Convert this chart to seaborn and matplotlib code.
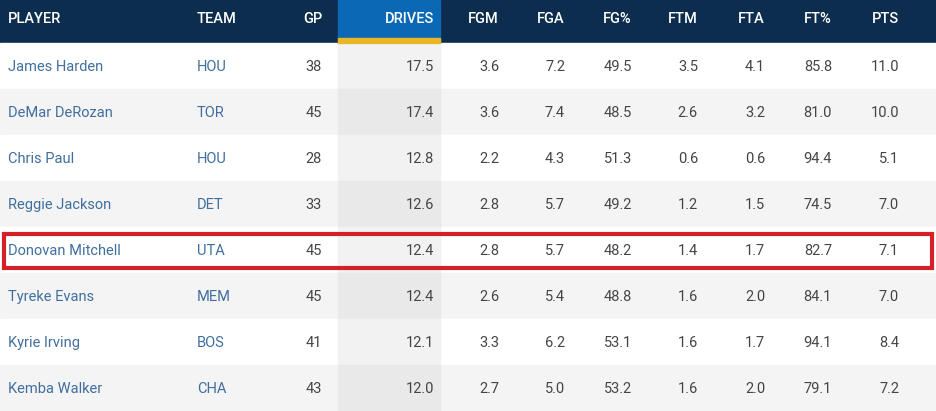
import matplotlib
matplotlib.use("Agg")
import matplotlib.pyplot as plt
import seaborn as sns
from matplotlib.patches import Rectangle

sns.set_theme(style="white")

columns = ["PLAYER", "TEAM", "GP", "DRIVES", "FGM", "FGA", "FG%", "FTM", "FTA", "FT%", "PTS"]
players = ["James Harden", "DeMar DeRozan", "Chris Paul", "Reggie Jackson", "Donovan Mitchell",
           "Tyreke Evans", "Kyrie Irving", "Kemba Walker"]
teams = ["HOU", "TOR", "HOU", "DET", "UTA", "MEM", "BOS", "CHA"]
gp = [38, 45, 28, 33, 45, 45, 41, 43]
drives = [17.5, 17.4, 12.8, 12.6, 12.4, 12.4, 12.1, 12.0]
fgm = [3.6, 3.6, 2.2, 2.8, 2.8, 2.6, 3.3, 2.7]
fga = [7.2, 7.4, 4.3, 5.7, 5.7, 5.4, 6.2, 5.0]
fgp = [49.5, 48.5, 51.3, 49.2, 48.2, 48.8, 53.1, 53.2]
ftm = [3.5, 2.6, 0.6, 1.2, 1.4, 1.6, 1.6, 1.6]
fta = [4.1, 3.2, 0.6, 1.5, 1.7, 2.0, 1.7, 2.0]
ftp = [85.8, 81.0, 94.4, 74.5, 82.7, 84.1, 94.1, 79.1]
pts = [11.0, 10.0, 5.1, 7.0, 7.1, 7.0, 8.4, 7.2]
highlight = "Donovan Mitchell"

W, H = 936, 411
fig = plt.figure(figsize=(W / 100, H / 100), dpi=100)
ax = fig.add_axes([0, 0, 1, 1])
ax.set_xlim(0, W)
ax.set_ylim(H, 0)
ax.axis("off")

hdr_h = 43
row_h = 46
drv_x0, drv_x1 = 338, 440
font = "Roboto"

ax.add_patch(Rectangle((0, 0), W, hdr_h, color="#0c2d4e", zorder=1))
ax.add_patch(Rectangle((drv_x0, 0), drv_x1 - drv_x0, hdr_h, color="#0a68b4", zorder=2))
ax.add_patch(Rectangle((drv_x0, hdr_h - 5), drv_x1 - drv_x0, 5, color="#e8b526", zorder=3))

for i in range(len(players)):
    y0 = hdr_h + i * row_h
    bg = "#ffffff" if i % 2 == 0 else "#f4f4f4"
    dbg = "#f2f2f2" if i % 2 == 0 else "#e9e9e9"
    ax.add_patch(Rectangle((0, y0), W, row_h, color=bg, zorder=1))
    ax.add_patch(Rectangle((drv_x0, y0), drv_x1 - drv_x0, row_h, color=dbg, zorder=2))

# column anchors: (x, ha)
anchors = [(8, "left"), (197, "left"), (322, "right"), (434, "right"), (499, "right"),
           (565, "right"), (632, "right"), (698, "right"), (765, "right"), (832, "right"), (899, "right")]

for (x, ha), c in zip(anchors, columns):
    ax.text(x, 19, c, ha=ha, va="center", color="white", fontsize=10.5,
            fontfamily=font, fontweight="medium", zorder=4)

link = "#3f6e9e"
num = "#444444"
for i in range(len(players)):
    yc = hdr_h + i * row_h + row_h / 2 + 1
    vals = [players[i], teams[i], str(gp[i]), f"{drives[i]:.1f}", f"{fgm[i]:.1f}", f"{fga[i]:.1f}",
            f"{fgp[i]:.1f}", f"{ftm[i]:.1f}", f"{fta[i]:.1f}", f"{ftp[i]:.1f}", f"{pts[i]:.1f}"]
    for j, ((x, ha), v) in enumerate(zip(anchors, vals)):
        ax.text(x, yc, v, ha=ha, va="center", color=link if j < 2 else num,
                fontsize=10.5, fontfamily=font, zorder=4)
    if players[i] == highlight:
        ax.add_patch(Rectangle((4, yc - 17), W - 8, 34, fill=False, edgecolor="#d42027",
                               linewidth=3, zorder=5))

fig.savefig("out.png", dpi=100)
